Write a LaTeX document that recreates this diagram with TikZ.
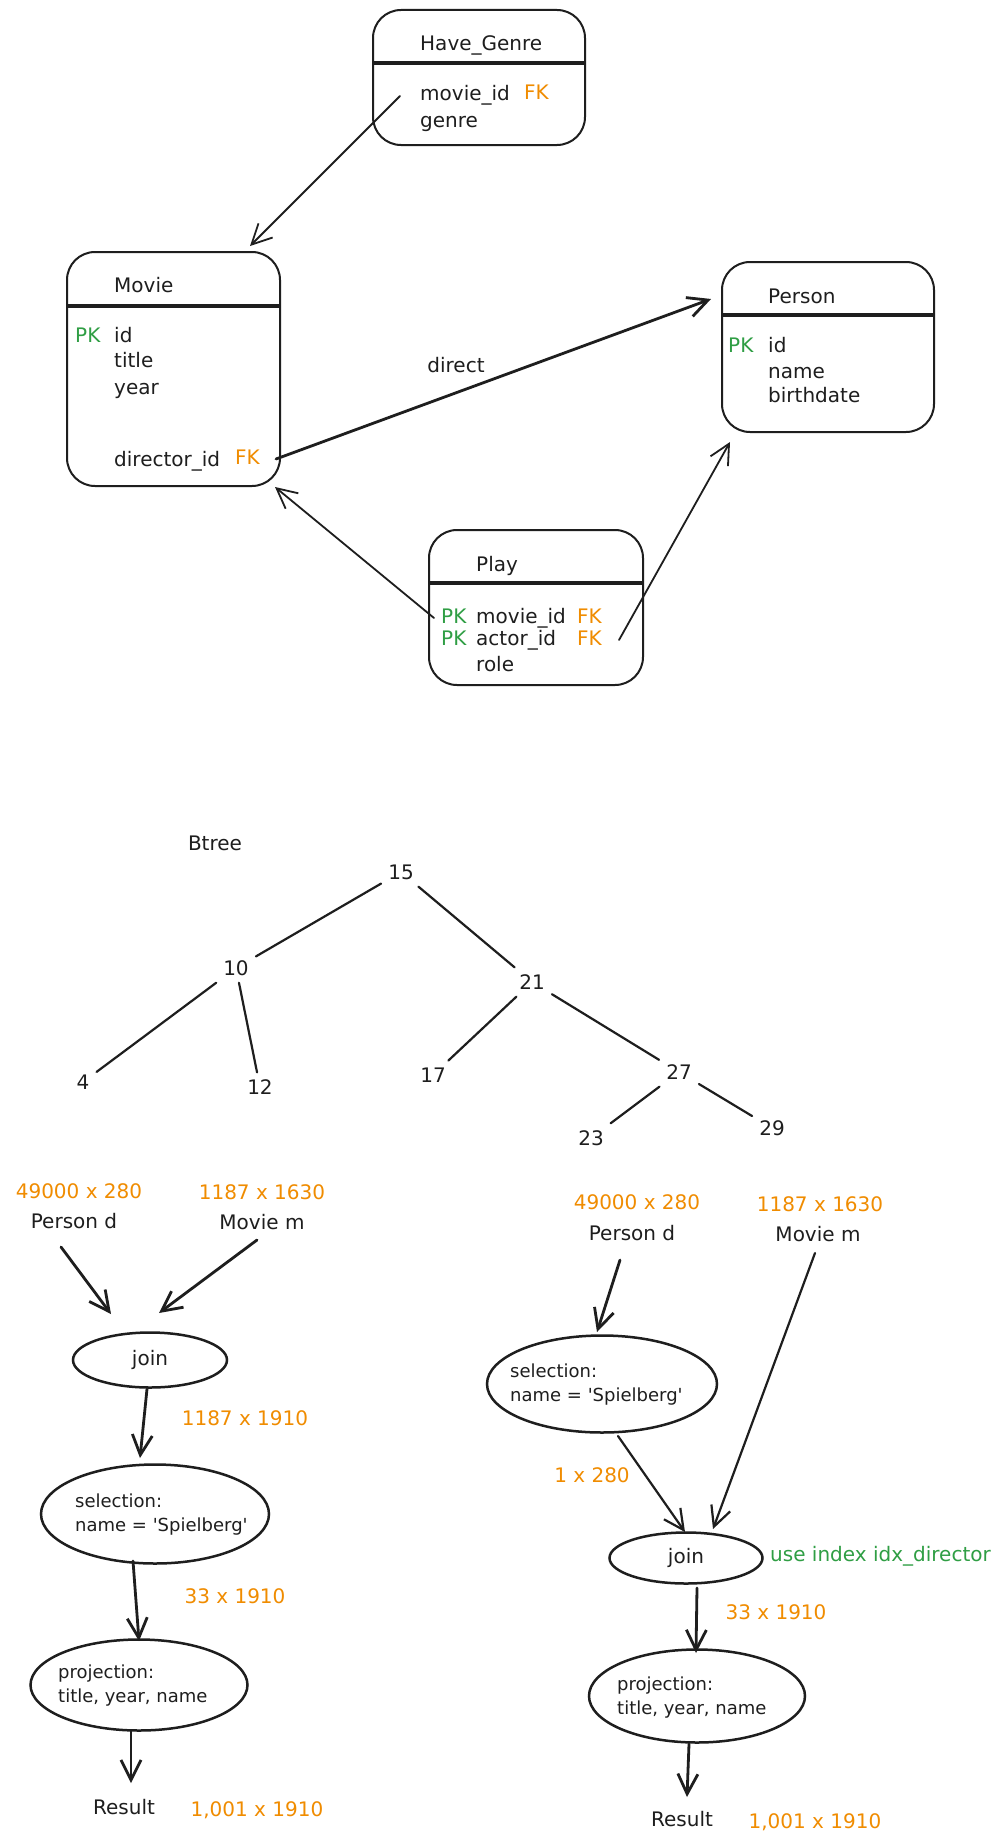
\documentclass[tikz,border=0pt]{standalone}
\usepackage{fontspec}
\setmainfont{DejaVu Sans}
\usetikzlibrary{arrows.meta,shapes.geometric}
\definecolor{ink}{HTML}{1E1E1E}
\definecolor{pkgreen}{HTML}{2F9E44}
\definecolor{fkorange}{HTML}{F08C00}

\begin{document}
\begin{tikzpicture}[x=1pt,y=-1pt,
  every node/.style={font=\fontsize{20}{24}\selectfont, text=ink, inner sep=0pt},
  table/.style={draw=ink, line width=2pt, rounded corners=28pt, inner sep=0pt},
  rule/.style={draw=ink, line width=3.5pt},
  txt/.style={anchor=west, text height=14pt, text depth=4pt},
  pk/.style={txt, text=pkgreen},
  fk/.style={txt, text=fkorange},
  link/.style={draw=ink, line width=1.8pt, line cap=round,
    -{Straight Barb[length=20pt,width=20pt]}},
  heavylink/.style={link, line width=2.8pt},
  tnode/.style={inner sep=7pt},
  branch/.style={draw=ink, line width=2.2pt, line cap=round},
  cost/.style={text=fkorange},
  op/.style={ellipse, draw=ink, line width=2.5pt, inner sep=0pt},
  optext/.style={anchor=west, align=left, font=\fontsize{18}{24}\selectfont},
  flow/.style={link, line width=2.8pt},
]
\path[use as bounding box, fill=white] (0,0) rectangle (999,1841);

% ---------------- schema tables ----------------
\node[table, minimum width=212pt, minimum height=135pt] (hg) at (479,77.5) {};
\draw[rule] ([yshift=-54pt]hg.north west) -- ([yshift=-54pt]hg.north east);
\node[txt] (hgname) at (420,46) {Have\_Genre};
\node[txt] (hgmid) at (420,96) {movie\_id};
\node[fk] (hgfk) at (524,95) {FK};
\node[txt] (hggenre) at (420,123) {genre};

\node[table, minimum width=213pt, minimum height=234pt] (movie) at (173.5,369) {};
\draw[rule] ([yshift=-55pt]movie.north west) -- ([yshift=-55pt]movie.north east);
\node[txt] (mvname) at (114,287) {Movie};
\node[pk] (mvpk) at (75,337) {PK};
\node[txt] (mvid) at (114,337) {id};
\node[txt] (mvtitle) at (114,362) {title};
\node[txt] (mvyear) at (114,389) {year};
\node[txt] (mvdir) at (114,461) {director\_id};
\node[fk] (mvfk) at (235,459) {FK};

\node[table, minimum width=212pt, minimum height=170pt] (person) at (828,347) {};
\draw[rule] ([yshift=-54pt]person.north west) -- ([yshift=-54pt]person.north east);
\node[txt] (psname) at (768,298) {Person};
\node[pk] (pspk) at (728,347) {PK};
\node[txt] (psid) at (768,347) {id};
\node[txt] (psnm) at (768,373) {name};
\node[txt] (psbd) at (768,397) {birthdate};

\node[table, minimum width=214pt, minimum height=155pt] (play) at (536,607.5) {};
\draw[rule] ([yshift=-54pt]play.north west) -- ([yshift=-54pt]play.north east);
\node[txt] (plname) at (476,566) {Play};
\node[pk] (plpk1) at (441,618) {PK};
\node[txt] (plmid) at (476,618) {movie\_id};
\node[fk] (plfk1) at (577,618) {FK};
\node[pk] (plpk2) at (441,640) {PK};
\node[txt] (plaid) at (476,640) {actor\_id};
\node[fk] (plfk2) at (577,640) {FK};
\node[txt] (plrole) at (476,666) {role};

% relationships
\draw[link] ([xshift=-20pt]hgmid.west) -- ([shift={(-31,-5)}]movie.north east);
\draw[heavylink] ([xshift=16pt]mvfk.east) -- ([shift={(-10,38)}]person.north west);
\node (directlbl) at (456,365) {direct};
\draw[link] ([xshift=-7pt]plpk1.west) -- ([shift={(-6,0)}]movie.south east);
\draw[link] ([xshift=17pt]plfk2.east) -- ([shift={(9,9)}]person.south west);

% ---------------- B-tree ----------------
\node (btree) at (215,843) {Btree};
\node[tnode] (t15) at (401,872) {15};
\node[tnode] (t10) at (236,968) {10};
\node[tnode] (t21) at (532,982) {21};
\node[tnode] (t4) at (83,1082) {4};
\node[tnode] (t12) at (260,1087) {12};
\node[tnode] (t17) at (433,1075) {17};
\node[tnode] (t27) at (679,1072) {27};
\node[tnode] (t23) at (591,1138) {23};
\node[tnode] (t29) at (772,1128) {29};
\draw[branch] (t15) -- (t10);
\draw[branch] (t15) -- (t21);
\draw[branch] (t10) -- (t4);
\draw[branch] (t10) -- (t12);
\draw[branch] (t21) -- (t17);
\draw[branch] (t21) -- (t27);
\draw[branch] (t27) -- (t23);
\draw[branch] (t27) -- (t29);

% ---------------- plan without index ----------------
\node[cost] (lc1) at (79,1191) {49000 x 280};
\node[cost] (lc2) at (262,1192) {1187 x 1630};
\node (lpd) at (74,1221) {Person d};
\node (lmm) at (262,1222) {Movie m};
\node[op, minimum width=154pt, minimum height=55pt] (ljoin) at (150,1360) {join};
\node[cost] (lc3) at (245,1418) {1187 x 1910};
\node[op, minimum width=228pt, minimum height=99pt] (lsel) at (155,1514) {};
\node[optext] (lseltxt) at (75,1515) {selection:\\name = \textquotesingle Spielberg\textquotesingle};
\node[cost] (lc4) at (235,1596) {33 x 1910};
\node[op, minimum width=217pt, minimum height=91pt] (lproj) at (139,1685) {};
\node[optext] (lprojtxt) at (58,1686) {projection:\\title, year, name};
\node (lres) at (124,1807) {Result};
\node[cost] (lc5) at (257,1810) {1,001 x 1910};

\draw[flow] ([shift={(-13,26)}]lpd.center) -- ([shift={(-39,-46)}]ljoin.center);
\draw[flow] ([shift={(-5,18)}]lmm.center) -- ([shift={(9,-47)}]ljoin.center);
\draw[flow] ([shift={(-3,29)}]ljoin.center) -- ([shift={(-15,-56)}]lsel.center);
\draw[flow] ([shift={(-22,47)}]lsel.center) -- ([shift={(0,-44)}]lproj.center);
\draw[flow] ([shift={(-8,46)}]lproj.center) -- ([shift={(7,-24)}]lres.center);

% ---------------- plan with index ----------------
\node[cost] (rc1) at (637,1202) {49000 x 280};
\node[cost] (rc2) at (820,1204) {1187 x 1630};
\node (rpd) at (632,1233) {Person d};
\node (rmm) at (818,1234) {Movie m};
\node[op, minimum width=230pt, minimum height=97pt] (rsel) at (602,1384) {};
\node[optext] (rseltxt) at (510,1385) {selection:\\name = \textquotesingle Spielberg\textquotesingle};
\node[cost] (rc3) at (592,1475) {1 x 280};
\node[op, minimum width=153pt, minimum height=51pt] (rjoin) at (686,1558) {join};
\node[anchor=west, text=pkgreen] (idxnote) at (770,1556) {use index idx\_director};
\node[cost] (rc4) at (776,1612) {33 x 1910};
\node[op, minimum width=216pt, minimum height=93pt] (rproj) at (697,1696) {};
\node[optext] (rprojtxt) at (617,1698) {projection:\\title, year, name};
\node (rres) at (682,1819) {Result};
\node[cost] (rc5) at (815,1822) {1,001 x 1910};

\draw[flow] ([shift={(-12,27)}]rpd.center) -- ([shift={(-5,-52)}]rsel.center);
\draw[link, line width=2.2pt] ([shift={(-3,19)}]rmm.center) -- ([shift={(27,-29)}]rjoin.center);
\draw[link, line width=2.2pt] ([shift={(16,52)}]rsel.center) -- ([shift={(-1,-26)}]rjoin.center);
\draw[flow] ([shift={(11,30)}]rjoin.center) -- ([shift={(-1,-43)}]rproj.center);
\draw[flow] ([shift={(-8,48)}]rproj.center) -- ([shift={(5,-22)}]rres.center);
\end{tikzpicture}
\end{document}
